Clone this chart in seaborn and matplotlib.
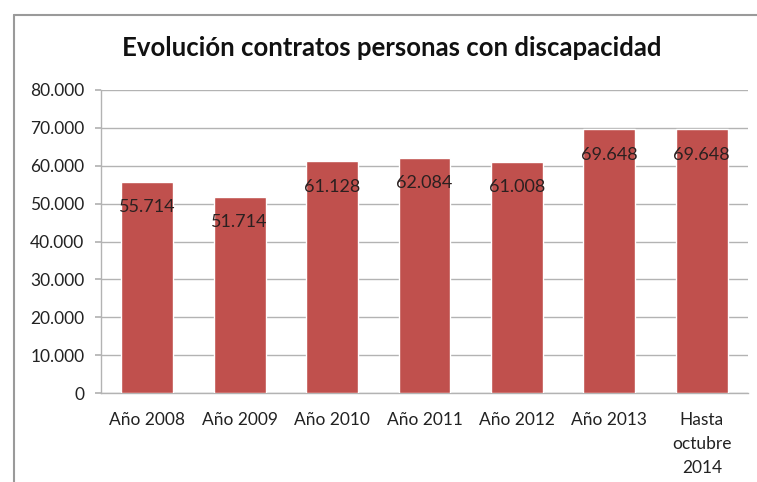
import matplotlib
matplotlib.use("Agg")
import matplotlib.pyplot as plt
import seaborn as sns
import pandas as pd
from matplotlib.lines import Line2D

categories = ["Año 2008", "Año 2009", "Año 2010", "Año 2011", "Año 2012", "Año 2013", "Hasta\noctubre\n2014"]
values = [55714, 51714, 61128, 62084, 61008, 69648, 69648]
value_labels = ["55.714", "51.714", "61.128", "62.084", "61.008", "69.648", "69.648"]
y_ticks = [0, 10000, 20000, 30000, 40000, 50000, 60000, 70000, 80000]
y_tick_labels = ["0", "10.000", "20.000", "30.000", "40.000", "50.000", "60.000", "70.000", "80.000"]
title = "Evolución contratos personas con discapacidad"

sns.set_theme(style="white")
plt.rcParams['font.family'] = ['Lato', 'DejaVu Sans']

df = pd.DataFrame({"cat": categories, "val": values})

fig = plt.figure(figsize=(7.57, 4.82), dpi=100)
ax = fig.add_axes([101/757, 1-393/482, (748-101)/757, (393-90)/482])

sns.barplot(data=df, x="cat", y="val", color="#C0504D", saturation=1, width=0.56, ax=ax, zorder=3)

ax.set_ylim(0, 80000)
ax.set_yticks(y_ticks)
ax.set_yticklabels(y_tick_labels)
ax.yaxis.grid(True, color="#b3b3b3", linewidth=1, zorder=0)
ax.set_axisbelow(True)
ax.set_xlabel("")
ax.set_ylabel("")
for s in ["top", "right"]:
    ax.spines[s].set_visible(False)
for s in ["left", "bottom"]:
    ax.spines[s].set_color("#b3b3b3")
    ax.spines[s].set_linewidth(1)
ax.tick_params(axis="y", labelsize=12.5, colors="#222222", length=4, color="#b3b3b3", left=True, pad=8)
ax.tick_params(axis="x", labelsize=12.5, colors="#222222", length=0, pad=14)
for lbl in ax.get_xticklabels():
    lbl.set_linespacing(1.6)
    lbl.set_verticalalignment("top")

ax.bar_label(ax.containers[0], labels=value_labels, padding=-24, fontsize=13, color="#2b2020")

fig.text(392/757, 1-48/482, title, ha="center", va="center", fontsize=18.5, fontweight="bold", color="#111111")

# chart frame
fig.add_artist(Line2D([14/757, 14/757], [0, 1-15/482], color="#9a9a9a", linewidth=1.5))
fig.add_artist(Line2D([14/757, 1], [1-15/482, 1-15/482], color="#9a9a9a", linewidth=1.5))

fig.savefig("out.png", dpi=100)
